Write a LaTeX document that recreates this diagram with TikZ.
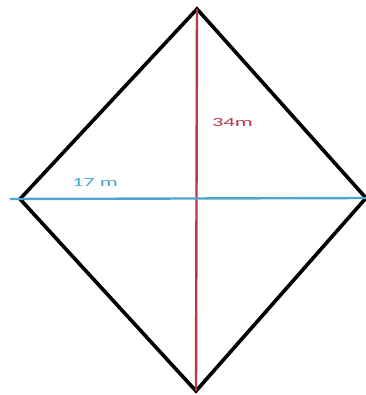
\documentclass[tikz,border=0pt]{standalone}
\usepackage{fontspec}
\setmainfont{Carlito}
\usetikzlibrary{calc}
\definecolor{diagblue}{RGB}{75,165,205}
\definecolor{diagred}{RGB}{185,55,70}
\tikzset{
  outline/.style={
    line width=3.6pt,
    line join=miter,
    draw=black
  },
  diagonal-red/.style={line width=2.4pt, draw=diagred},
  diagonal-blue/.style={line width=2.4pt, draw=diagblue},
  dimlabel/.style={
    font=\fontsize{12.5}{14}\selectfont,
    inner sep=0pt,
    xscale=1.8
  }
}

\begin{document}
\begin{tikzpicture}[x=1pt,y=-1pt]
  \useasboundingbox (0,0) rectangle (365,395);
  \coordinate (top) at (197,9);
  \coordinate (bottom) at (196,391);
  \coordinate (left) at (20,199);
  \coordinate (right) at (366,198);
  \coordinate (bluestart) at (10,199);
  \draw[outline] (top) -- (right) -- (bottom) -- (left) -- cycle;
  \draw[diagonal-red] (top) -- (bottom);
  \draw[diagonal-blue] (bluestart) -- (right);
  \node[dimlabel, text=diagred] (long) at (232.5,122.5) {34m};
  \node[dimlabel, text=diagblue] (short) at (95,182.5) {17 m};
\end{tikzpicture}
\end{document}
